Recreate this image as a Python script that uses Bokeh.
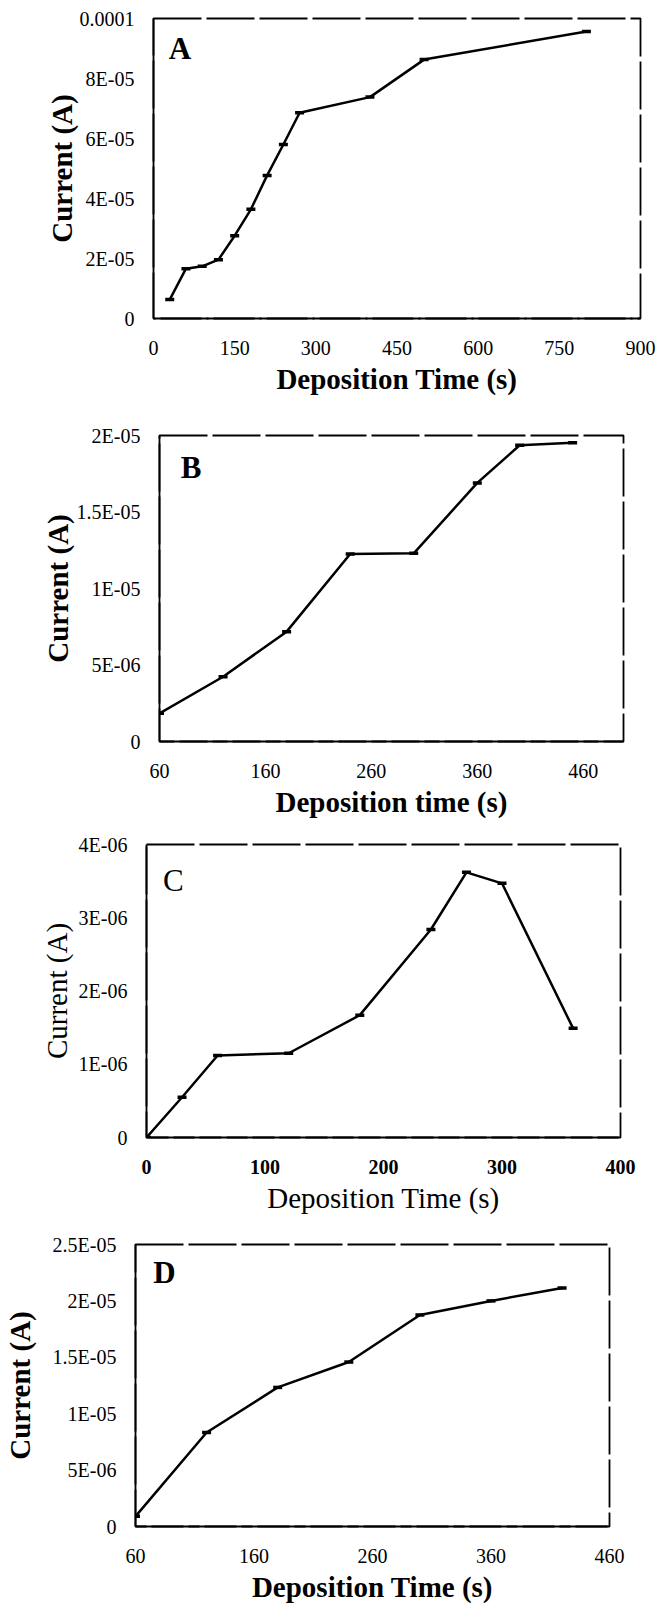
from bokeh.plotting import figure
from bokeh.models import Range1d, FixedTicker, Label
from bokeh.embed import file_html
from bokeh.resources import INLINE

# ---------------- data ----------------
a_time = [30, 60, 90, 120, 150, 180, 210, 240, 270, 400, 500, 800]
a_current = [6.3e-6, 1.66e-5, 1.74e-5, 1.96e-5, 2.76e-5, 3.64e-5, 4.77e-5, 5.8e-5, 6.86e-5, 7.38e-5, 8.63e-5, 9.57e-5]
a_xticks = [0, 150, 300, 450, 600, 750, 900]
a_yticks = [0, 2e-5, 4e-5, 6e-5, 8e-5, 1e-4]
a_ylabels = ["0", "2E-05", "4E-05", "6E-05", "8E-05", "0.0001"]

b_time = [60, 120, 180, 240, 300, 360, 400, 450]
b_current = [1.84e-6, 4.23e-6, 7.18e-6, 1.226e-5, 1.23e-5, 1.69e-5, 1.936e-5, 1.953e-5]
b_xticks = [60, 160, 260, 360, 460]
b_yticks = [0, 5e-6, 1e-5, 1.5e-5, 2e-5]
b_ylabels = ["0", "5E-06", "1E-05", "1.5E-05", "2E-05"]

c_time = [0, 30, 60, 120, 180, 240, 270, 300, 360]
c_current = [0.0, 5.5e-7, 1.12e-6, 1.15e-6, 1.67e-6, 2.84e-6, 3.62e-6, 3.47e-6, 1.49e-6]
c_xticks = [0, 100, 200, 300, 400]
c_yticks = [0, 1e-6, 2e-6, 3e-6, 4e-6]
c_ylabels = ["0", "1E-06", "2E-06", "3E-06", "4E-06"]

d_time = [60, 120, 180, 240, 300, 360, 420]
d_current = [9e-7, 8.33e-6, 1.233e-5, 1.458e-5, 1.875e-5, 2.0e-5, 2.115e-5]
d_xticks = [60, 160, 260, 360, 460]
d_yticks = [0, 5e-6, 1e-5, 1.5e-5, 2e-5, 2.5e-5]
d_ylabels = ["0", "5E-06", "1E-05", "1.5E-05", "2E-05", "2.5E-05"]

FONT = "Liberation Serif"


def panel(xs, ys, xr, yr, xticks, yticks, ylabels, xtitle, letter, letter_pos,
          height, borders, ytitle_standoff, bold_titles=True, bold_xticks=False):
    top, right, bottom, left = borders
    p = figure(width=658, height=height, output_backend="svg", toolbar_location=None,
               x_range=Range1d(*xr), y_range=Range1d(*yr),
               min_border_top=top, min_border_right=right,
               min_border_bottom=bottom, min_border_left=left)
    p.grid.grid_line_color = None
    p.background_fill_color = "white"
    p.border_fill_color = "white"
    p.outline_line_color = "black"
    p.outline_line_width = 1.8
    p.outline_line_dash = "48 5"

    p.xaxis.ticker = FixedTicker(ticks=xticks)
    p.yaxis.ticker = FixedTicker(ticks=yticks)
    p.yaxis.major_label_overrides = {t: l for t, l in zip(yticks, ylabels)}
    p.xaxis.major_label_overrides = {t: str(t) for t in xticks}
    for ax in (p.xaxis, p.yaxis):
        ax.major_tick_line_color = None
        ax.minor_tick_line_color = None
        ax.major_label_text_font = FONT
        ax.major_label_text_font_size = "20px"
        ax.major_label_text_color = "black"
        ax.axis_label_text_font = FONT
        ax.axis_label_text_font_size = "29px"
        ax.axis_label_text_color = "black"
        ax.axis_label_text_font_style = "bold" if bold_titles else "normal"
        ax.axis_line_color = "black"
        ax.axis_line_width = 1.8
    p.xaxis.axis_line_dash = "48 5"
    p.xaxis.major_label_standoff = 16
    p.yaxis.major_label_standoff = 13
    p.xaxis.axis_label_standoff = 5
    p.yaxis.axis_label_standoff = ytitle_standoff
    if bold_xticks:
        p.xaxis.major_label_text_font_style = "bold"
    p.xaxis.axis_label = xtitle
    p.yaxis.axis_label = "Current (A)"

    p.line(xs, ys, line_color="black", line_width=2.5)
    p.scatter(xs, ys, marker="dash", size=9, line_color="black", line_width=3.5)

    p.add_layout(Label(x=letter_pos[0], y=letter_pos[1], text=letter,
                       text_font=FONT, text_font_size="31px",
                       text_font_style="bold" if bold_titles else "normal",
                       text_baseline="middle", text_align="left", text_color="black"))
    return p


pa = panel(a_time, a_current, (0, 900), (0, 1e-4), a_xticks, a_yticks, a_ylabels,
           "Deposition Time (s)", "A", (28, 9.0e-5), 400, (18, 18, 82, 153), -1)
pb = panel(b_time, b_current, (60, 498), (0, 2e-5), b_xticks, b_yticks, b_ylabels,
           "Deposition time (s)", "B", (80, 1.79e-5), 420, (35, 35, 73, 159), 0)
pc = panel(c_time, c_current, (0, 400), (0, 4e-6), c_xticks, c_yticks, c_ylabels,
           "Deposition Time (s)", "C", (14, 3.51e-6), 400, (24, 38, 83, 146), 3,
           bold_titles=False, bold_xticks=True)
pd = panel(d_time, d_current, (60, 460), (0, 2.5e-5), d_xticks, d_yticks, d_ylabels,
           "Deposition Time (s)", "D", (75, 2.25e-5), 385, (24, 49, 75, 135), 14)

open("out.html", "w").write(file_html([pa, pb, pc, pd], INLINE))
